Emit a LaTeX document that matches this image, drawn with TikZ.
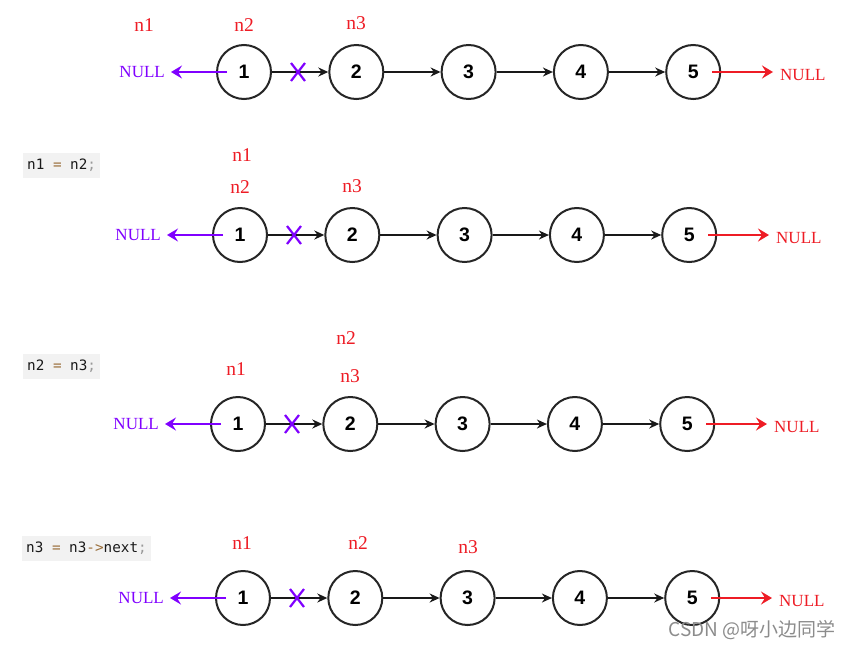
\documentclass[tikz,border=0pt]{standalone}
\usepackage{fontspec}
\setmainfont{Liberation Serif}
\setsansfont{Liberation Sans}
\setmonofont{DejaVu Sans Mono}
\newfontfamily\cjk{Noto Sans CJK SC}
\usetikzlibrary{arrows.meta}
\definecolor{pur}{HTML}{8000FF}
\definecolor{lred}{HTML}{EE1C25}
\definecolor{codeop}{HTML}{9A6E3A}
\definecolor{codepun}{HTML}{999999}
\definecolor{codetxt}{HTML}{1A1A1A}
\definecolor{codebg}{HTML}{F2F2F2}
\newcommand{\cop}[1]{\textcolor{codeop}{#1}}
\newcommand{\cpu}[1]{\textcolor{codepun}{#1}}
\begin{document}
\begin{tikzpicture}[x=1pt,y=-1pt,
  lnode/.style={circle, draw=black!85, line width=2pt, minimum size=54pt, inner sep=0pt,
    font=\sffamily\bfseries\fontsize{19.5}{19.5}\selectfont},
  link/.style={-{Stealth[length=10pt,width=9pt]}, line width=1.6pt, draw=black!90},
  ptr/.style={text=lred, font=\fontsize{19.5}{19.5}\selectfont, inner sep=0pt},
  nullp/.style={text=pur, font=\fontsize{17}{17}\selectfont, inner sep=0pt},
  nullr/.style={text=lred, font=\fontsize{17}{17}\selectfont, inner sep=0pt},
  parrow/.style={draw=pur, line width=2.8pt, -{Stealth[length=11pt,width=13pt,inset=4pt]}, shorten >=6pt},
  rarrow/.style={draw=lred, line width=2.8pt, -{Stealth[length=11pt,width=13pt,inset=4pt]}, shorten >=7pt},
  xmark/.style={draw=pur, line width=2.2pt},
  code/.style={fill=codebg, anchor=west, inner xsep=4pt, minimum height=25pt,
    text=codetxt, font=\ttfamily\fontsize{14.3}{14.3}\selectfont},
  wm/.style={text=black!45, font=\cjk\fontsize{19}{19}\selectfont, anchor=east, inner sep=0pt}
]
\useasboundingbox (0,0) rectangle (850,648);
\fill[white] (0,0) rectangle (850,648);

\foreach \r/\y/\x in {1/72/244, 2/235/240, 3/424/238, 4/598/243} {
  \foreach \i in {1,...,5} {
    \node[lnode] (c\r-\i) at ({\x+(\i-1)*112.3},\y) {\i};
  }
  \foreach \i/\j in {1/2,2/3,3/4,4/5} {
    \draw[link] (c\r-\i) -- (c\r-\j);
  }
  \node[nullp, anchor=east] (np\r) at (\x-79,\y) {NULL};
  \node[nullr, anchor=west] (nr\r) at (\x+536,\y+3) {NULL};
  \draw[parrow] ([xshift=-17pt]c\r-1.center) -- (np\r.east);
  \draw[rarrow] ([xshift=19pt]c\r-5.center) -- (c\r-5 -| nr\r.west);
  \draw[xmark] (\x+47,\y-9) -- (\x+61,\y+9) (\x+47,\y+9) -- (\x+61,\y-9);
}

% pointer labels
\node[ptr] (p1a) at (144,25) {n1};
\node[ptr] (p1b) at (244,25) {n2};
\node[ptr] (p1c) at (356,23) {n3};

\node[ptr] (p2a) at (242,155) {n1};
\node[ptr] (p2b) at (240,187) {n2};
\node[ptr] (p2c) at (352,186) {n3};

\node[ptr] (p3a) at (236,369) {n1};
\node[ptr] (p3b) at (346,338) {n2};
\node[ptr] (p3c) at (350,376) {n3};

\node[ptr] (p4a) at (242,543) {n1};
\node[ptr] (p4b) at (358,543) {n2};
\node[ptr] (p4c) at (468,547) {n3};

% code snippets
\node[code] (code2) at (23,165) {n1 \cop{=} n2\cpu{;}};
\node[code] (code3) at (23,366) {n2 \cop{=} n3\cpu{;}};
\node[code] (code4) at (22,548) {n3 \cop{=} n3\cop{->}next\cpu{;}};

% watermark
\node[wm] (wm) at (836,630) {CSDN @呀小边同学};
\end{tikzpicture}
\end{document}
